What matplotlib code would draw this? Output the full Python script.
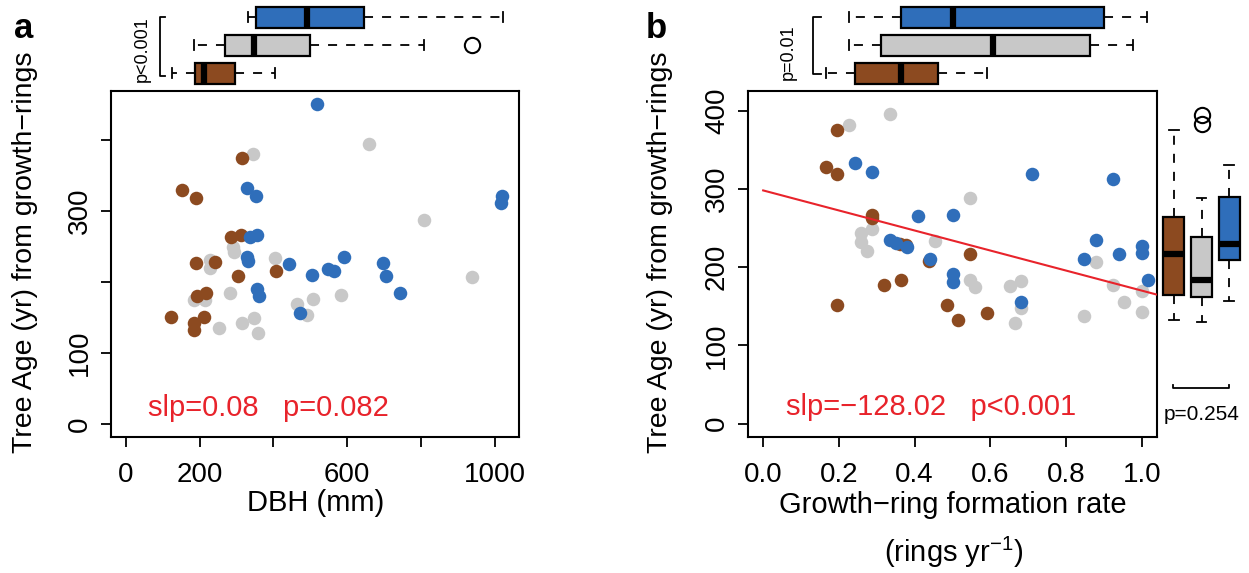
import numpy as np
from matplotlib import pyplot as plt

plt.rcParams['font.family'] = ['Liberation Sans', 'DejaVu Sans']

W, H = 1249, 573

BROWN = '#8c4a20'
GREY = '#c8c8c8'
BLUE = '#2f6eba'
RED = '#e8232b'

# panel a : DBH (mm) vs age (yr)
dbh_blue = [517, 327, 353, 1020, 1017, 337, 356, 329, 332, 441, 592, 504, 548, 564, 696, 704, 743, 355, 360, 471]
age_blue_a = [451, 332, 321, 321, 311, 264, 266, 235, 230, 225, 235, 210, 219, 216, 227, 209, 184, 190, 180, 156]
dbh_brown = [316, 151, 190, 286, 311, 189, 241, 303, 406, 216, 192, 123, 211, 184, 184]
age_brown_a = [374, 329, 319, 263, 266, 227, 229, 208, 216, 185, 180, 151, 151, 143, 133]
dbh_grey = [344, 658, 808, 290, 294, 227, 228, 403, 937, 283, 184, 214, 507, 582, 463, 490, 252, 314, 347, 359]
age_grey_a = [381, 394, 288, 249, 243, 231, 220, 234, 207, 185, 175, 175, 176, 182, 169, 154, 136, 142, 149, 129]

# panel b : growth-ring formation rate vs age
rate_blue = [0.242, 0.288, 0.711, 0.924, 0.410, 0.500, 0.334, 0.350, 0.379, 0.440, 0.500, 0.500, 0.682, 0.879, 0.848, 0.939, 1.0, 1.0, 1.015]
age_blue_b = [333, 322, 319, 312, 265, 267, 235, 231, 226, 210, 191, 181, 156, 235, 210, 217, 227, 218, 184]
rate_brown = [0.196, 0.167, 0.196, 0.288, 0.288, 0.376, 0.361, 0.545, 0.439, 0.363, 0.318, 0.196, 0.485, 0.515, 0.590]
age_brown_b = [375, 328, 319, 267, 263, 228, 230, 217, 208, 184, 177, 151, 151, 132, 142]
rate_grey = [0.334, 0.227, 0.545, 0.288, 0.258, 0.258, 0.273, 0.455, 0.545, 0.560, 0.652, 0.681, 0.681, 0.666, 0.848, 0.879, 0.924, 0.954, 1.0, 1.0]
age_grey_b = [395, 382, 288, 249, 243, 232, 220, 234, 184, 175, 176, 182, 148, 129, 137, 207, 177, 155, 169, 143]

fit_intercept = 298.0
fit_slope = -128.02

# boxplot summaries (whislo, q1, med, q3, whishi, fliers), order brown, grey, blue
box_dbh = [(124, 187, 211, 297, 404, []),
           (184, 268, 347, 500, 808, [938]),
           (330, 354, 490, 646, 1021, [])]
box_rate = [(0.166, 0.243, 0.364, 0.463, 0.590, []),
            (0.228, 0.310, 0.606, 0.863, 0.977, []),
            (0.228, 0.364, 0.500, 0.901, 1.014, [])]
box_age = [(133, 164, 217, 264, 375, []),
           (130, 162, 183.5, 239, 288, [383, 394]),
           (157, 209, 229.5, 289, 331, [])]


def px(l, t, r, b):
    return [l / W, 1 - b / H, (r - l) / W, (b - t) / H]


def make_stats(rows):
    return [dict(whislo=r[0], q1=r[1], med=r[2], q3=r[3], whishi=r[4], fliers=r[5]) for r in rows]


def draw_boxes(ax, rows, orient, width):
    res = ax.bxp(make_stats(rows), positions=[1, 2, 3], widths=width, orientation=orient,
                 patch_artist=True, capwidths=width * 0.45,
                 boxprops=dict(edgecolor='black', linewidth=1.6),
                 whiskerprops=dict(linestyle=(0, (5, 5)), linewidth=1.3),
                 capprops=dict(linewidth=1.3),
                 medianprops=dict(color='black', linewidth=4.5, solid_capstyle='butt'),
                 flierprops=dict(marker='o', markerfacecolor='none', markeredgecolor='black',
                                 markersize=11, markeredgewidth=1.5))
    for patch, c in zip(res['boxes'], [BROWN, GREY, BLUE]):
        patch.set_facecolor(c)
    ax.axis('off')


def style_axes(ax):
    for s in ax.spines.values():
        s.set_linewidth(1.5)
    ax.tick_params(direction='out', length=7, width=1.3, labelsize=20)
    ax.tick_params(axis='x', pad=11)
    ax.tick_params(axis='y', pad=6)


fig = plt.figure(figsize=(W / 100, H / 100), dpi=100)

# ---------- panel a
ax_a = fig.add_axes(px(111, 91, 519, 437))
ax_a.scatter(dbh_grey, age_grey_a, s=95, color=GREY, linewidths=0, zorder=3)
ax_a.scatter(dbh_brown, age_brown_a, s=95, color=BROWN, linewidths=0, zorder=3)
ax_a.scatter(dbh_blue, age_blue_a, s=95, color=BLUE, linewidths=0, zorder=3)
ax_a.set_xlim(-40, 1065)
ax_a.set_ylim(-18, 469)
ax_a.set_xticks([0, 200, 400, 600, 800, 1000])
ax_a.set_xticklabels(['0', '200', '', '600', '', '1000'])
ax_a.set_yticks([0, 100, 200, 300, 400])
ax_a.set_yticklabels(['0', '100', '', '300', ''], rotation=90, va='center')
style_axes(ax_a)
ax_a.text(0.09, 0.085, 'slp=0.08   p=0.082', color=RED, fontsize=21,
          transform=ax_a.transAxes, ha='left', va='center')

top_a = fig.add_axes(px(111, 3, 519, 87))
draw_boxes(top_a, box_dbh, 'horizontal', 0.75)
top_a.set_xlim(-40, 1065)
top_a.set_ylim(0.5, 3.5)
top_a.plot([106, 94, 94, 106], [3, 3, 0.9, 0.9], color='black', lw=1.3, clip_on=False)
top_a.text(46, 1.85, 'p<0.001', rotation=90, fontsize=13, ha='center', va='center')

# ---------- panel b
ax_b = fig.add_axes(px(748, 91, 1157, 437))
ax_b.scatter(rate_grey, age_grey_b, s=95, color=GREY, linewidths=0, zorder=3)
ax_b.scatter(rate_brown, age_brown_b, s=95, color=BROWN, linewidths=0, zorder=3)
ax_b.scatter(rate_blue, age_blue_b, s=95, color=BLUE, linewidths=0, zorder=3)
xf = np.array([0.0, 1.04])
ax_b.plot(xf, fit_intercept + fit_slope * xf, color=RED, lw=1.5, zorder=4, clip_on=True)
ax_b.set_xlim(-0.04, 1.04)
ax_b.set_ylim(-17, 425)
ax_b.set_xticks([0, 0.2, 0.4, 0.6, 0.8, 1.0])
ax_b.set_xticklabels(['0.0', '0.2', '0.4', '0.6', '0.8', '1.0'])
ax_b.set_yticks([0, 100, 200, 300, 400])
ax_b.set_yticklabels(['0', '100', '200', '300', '400'], rotation=90, va='center')
style_axes(ax_b)
ax_b.text(0.093, 0.088, 'slp=\u2212128.02   p<0.001', color=RED, fontsize=21,
          transform=ax_b.transAxes, ha='left', va='center')

top_b = fig.add_axes(px(748, 3, 1157, 87))
draw_boxes(top_b, box_rate, 'horizontal', 0.75)
top_b.set_xlim(-0.04, 1.04)
top_b.set_ylim(0.5, 3.5)
top_b.plot([0.154, 0.132, 0.132, 0.154], [3, 3, 0.95, 0.95], color='black', lw=1.3, clip_on=False)
top_b.text(0.066, 1.75, 'p=0.01', rotation=90, fontsize=13, ha='center', va='center')

side_b = fig.add_axes(px(1160, 91, 1243, 437))
draw_boxes(side_b, box_age, 'vertical', 0.76)
side_b.set_xlim(0.5, 3.5)
side_b.set_ylim(-17, 425)
side_b.plot([0.97, 0.97, 2.99, 2.99], [50, 46, 46, 50], color='black', lw=1.3, clip_on=False)
side_b.text(2.0, 11.5, 'p=0.254', fontsize=15, ha='center', va='center')

# labels
ylab = 'Tree Age (yr) from growth\u2212rings'
fig.text(25 / W, 1 - 252 / H, ylab, rotation=90, fontsize=20.5, ha='center', va='center')
fig.text(660 / W, 1 - 252 / H, ylab, rotation=90, fontsize=20.5, ha='center', va='center')
fig.text(316 / W, 1 - 503 / H, 'DBH (mm)', fontsize=21, ha='center', va='center')
fig.text(953 / W, 1 - 505 / H, 'Growth\u2212ring formation rate', fontsize=21, ha='center', va='center')
fig.text(954 / W, 1 - 552 / H, '(rings yr$^{\\mathregular{-1}}$)', fontsize=21, ha='center', va='center')
fig.text(24 / W, 1 - 28 / H, 'a', fontsize=25, fontweight='bold', ha='center', va='center')
fig.text(656 / W, 1 - 28 / H, 'b', fontsize=25, fontweight='bold', ha='center', va='center')

fig.savefig('out.png', dpi=100)
